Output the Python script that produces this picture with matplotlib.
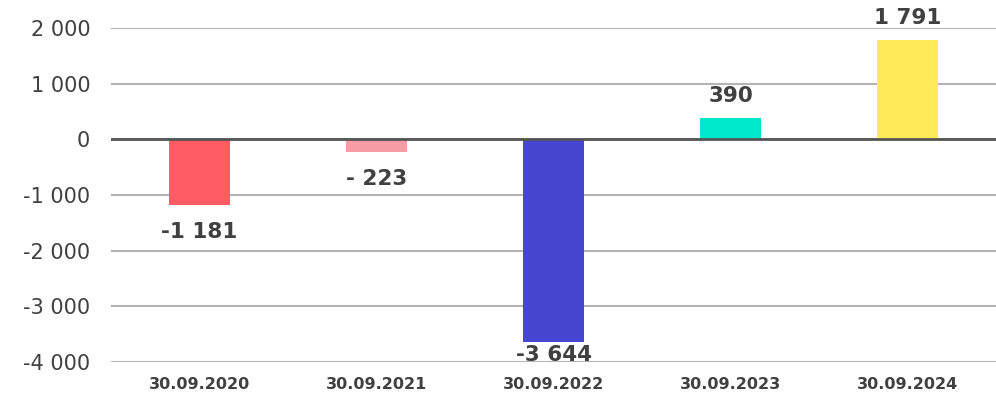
import matplotlib
matplotlib.use("Agg")
import matplotlib.pyplot as plt
from matplotlib.ticker import FuncFormatter

# Data
dates = ["30.09.2020", "30.09.2021", "30.09.2022", "30.09.2023", "30.09.2024"]
values = [-1181, -223, -3644, 390, 1791]
colors = ["#FF5C64", "#F89CA6", "#4646D0", "#00E8CC", "#FFEB5A"]

text_color = "#404040"


def fmt_num(v):
    s = f"{abs(int(v)):,}".replace(",", " ")
    if v < 0:
        return ("-" if abs(v) >= 1000 else "- ") + s
    return s


fig = plt.figure(figsize=(9.96, 3.94), dpi=100)
ax = fig.add_axes([111 / 996, 1 - 362 / 394, 885 / 996, 334 / 394])

x = range(len(dates))
ax.bar(x, values, width=0.34, color=colors, zorder=3)

ax.set_ylim(-4000, 2000)
ax.set_xlim(-0.5, len(dates) - 0.5)
ax.set_yticks(range(-4000, 2001, 1000))
ax.yaxis.set_major_formatter(FuncFormatter(lambda v, p: fmt_num(v)))
ax.grid(axis="y", color="#B4B4B4", linewidth=1.5, zorder=0)
ax.axhline(0, color="#555555", linewidth=2, zorder=4)

for s in ax.spines.values():
    s.set_visible(False)
ax.tick_params(axis="y", length=0, labelsize=15, labelcolor=text_color, pad=15)
ax.tick_params(axis="x", length=0, labelsize=11.5, labelcolor=text_color, pad=11)
ax.set_xticks(list(x))
ax.set_xticklabels(dates, fontweight="bold")

# Value labels
for xi, v in zip(x, values):
    if v >= 0:
        off = 15.5
    else:
        off = -19.5
        if v < -3400:
            off = -9.5
    ax.annotate(fmt_num(v), (xi, v), xytext=(0, off), textcoords="offset points",
                ha="center", va="center", fontsize=15.5, fontweight="bold",
                color=text_color, annotation_clip=False, zorder=5)

plt.savefig("out.png", dpi=100)
